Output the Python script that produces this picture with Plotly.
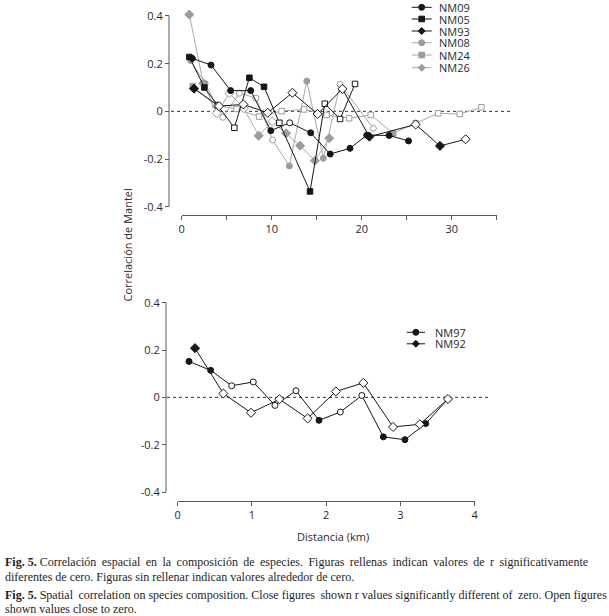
import plotly.graph_objects as go

W, H = 609, 616

# ---------------- data: top panel (distance in km, Mantel r) ----------------
nm09_x = [1.19, 3.26, 5.44, 7.67, 9.9, 12.0, 14.33, 16.5, 18.7, 20.56, 23.04, 25.2]
nm09_y = [0.222, 0.194, 0.087, 0.087, -0.081, -0.048, -0.09, -0.179, -0.155, -0.100, -0.101, -0.124]
nm09_sig = [1, 1, 1, 1, 1, 0, 1, 1, 1, 1, 1, 1]

nm05_x = [0.85, 2.52, 4.0, 5.85, 7.52, 9.15, 10.85, 14.26, 15.9, 17.6, 19.26]
nm05_y = [0.228, 0.100, 0.025, -0.069, 0.141, 0.103, -0.048, -0.336, 0.032, -0.032, 0.115]
nm05_sig = [1, 1, 0, 0, 1, 1, 0, 1, 0, 0, 0]

nm93_x = [1.37, 4.15, 6.85, 9.56, 12.3, 15.1, 17.85, 20.85, 26.0, 28.7, 31.55]
nm93_y = [0.095, 0.022, 0.029, -0.006, 0.078, -0.011, 0.094, -0.106, -0.055, -0.145, -0.117]
nm93_sig = [1, 0, 0, 0, 0, 0, 0, 1, 0, 1, 0]

nm08_x = [1.0, 2.6, 4.56, 6.4, 8.26, 10.1, 11.96, 13.9, 15.74, 17.6, 21.3]
nm08_y = [0.213, 0.117, -0.025, 0.076, 0.056, -0.120, -0.229, 0.127, -0.197, 0.113, -0.071]
nm08_sig = [1, 1, 0, 0, 0, 0, 1, 1, 1, 0, 0]

nm24_x = [1.22, 3.7, 6.1, 8.6, 11.1, 13.6, 16.1, 18.6, 21.0, 23.5, 26.0, 28.5, 30.9, 33.3]
nm24_y = [0.106, 0.027, 0.010, -0.022, 0.001, 0.008, -0.015, -0.029, -0.015, -0.092, -0.050, -0.008, -0.011, 0.017]
nm24_sig = [1, 0, 0, 0, 0, 0, 0, 0, 0, 1, 0, 0, 0, 0]

nm26_x = [0.85, 2.4, 3.9, 5.3, 6.9, 8.55, 10.07, 11.6, 13.15, 14.8, 16.4]
nm26_y = [0.406, 0.117, -0.008, 0.076, 0.013, -0.102, -0.043, -0.092, -0.144, -0.207, -0.113]
nm26_sig = [1, 1, 0, 0, 0, 1, 0, 1, 1, 1, 1]

# ---------------- data: bottom panel ----------------
nm97_x = [0.152, 0.444, 0.727, 1.018, 1.31, 1.593, 1.903, 2.19, 2.48, 2.77, 3.06, 3.34, 3.64]
nm97_y = [0.152, 0.114, 0.049, 0.065, -0.034, 0.028, -0.097, -0.062, 0.008, -0.167, -0.179, -0.111, -0.007]
nm97_sig = [1, 1, 0, 0, 0, 0, 1, 0, 0, 1, 1, 1, 0]

nm92_x = [0.233, 0.615, 0.987, 1.37, 1.75, 2.13, 2.50, 2.90, 3.26, 3.64]
nm92_y = [0.208, 0.016, -0.065, -0.008, -0.089, 0.025, 0.061, -0.125, -0.114, -0.007]
nm92_sig = [1, 0, 0, 0, 0, 0, 0, 0, 0, 0]

y_ticks = [-0.4, -0.2, 0, 0.2, 0.4]
y_ticktext = ["-0.4", "-0.2", "0", "0.2", "0.4"]
x_top_ticks = [0, 5, 10, 15, 20, 25, 30, 35]
x_top_text = ["0", "", "10", "", "20", "", "30", ""]
x_bot_ticks = [0, 1, 2, 3, 4]

BLACK = "#161616"
GRAY = "#9c9c9c"
GRAY_LINE = "#a8a8a8"
AXC = "#5a5a5a"
FONT = "Open Sans"


def px(xp):
    return xp / W


def py(yp):
    return 1 - yp / H


fig = go.Figure()

sym_size = {"circle": 6, "square": 5.5, "diamond": 7}

series_top = [
    ("NM09", nm09_x, nm09_y, nm09_sig, BLACK, BLACK, "circle"),
    ("NM05", nm05_x, nm05_y, nm05_sig, BLACK, BLACK, "square"),
    ("NM93", nm93_x, nm93_y, nm93_sig, BLACK, BLACK, "diamond"),
    ("NM08", nm08_x, nm08_y, nm08_sig, GRAY, GRAY_LINE, "circle"),
    ("NM24", nm24_x, nm24_y, nm24_sig, GRAY, GRAY_LINE, "square"),
    ("NM26", nm26_x, nm26_y, nm26_sig, GRAY, GRAY_LINE, "diamond"),
]
series_bot = [
    ("NM97", nm97_x, nm97_y, nm97_sig, BLACK, BLACK, "circle"),
    ("NM92", nm92_x, nm92_y, nm92_sig, BLACK, BLACK, "diamond"),
]

order_top = [3, 4, 5, 0, 1, 2]
for i in order_top:
    name, xs, ys, sig, mc, lc, sym = series_top[i]
    fig.add_trace(go.Scatter(
        x=xs, y=ys, mode="lines+markers", name=name, xaxis="x", yaxis="y",
        line=dict(color=lc, width=1),
        marker=dict(symbol=sym, size=sym_size[sym],
                    color=[mc if s else "white" for s in sig],
                    line=dict(color=mc, width=1)),
        showlegend=False, cliponaxis=False))

for name, xs, ys, sig, mc, lc, sym in series_bot:
    fig.add_trace(go.Scatter(
        x=xs, y=ys, mode="lines+markers", name=name, xaxis="x2", yaxis="y2",
        line=dict(color=lc, width=1),
        marker=dict(symbol=sym, size=sym_size[sym],
                    color=[mc if s else "white" for s in sig],
                    line=dict(color=mc, width=1)),
        showlegend=False, cliponaxis=False))

axis_common = dict(showgrid=False, zeroline=False, linecolor=AXC,
                   linewidth=1, ticks="outside", ticklen=4, tickcolor=AXC,
                   tickfont=dict(family=FONT, size=11, color="#2a2a2a"),
                   anchor="free")

PAD = 0.03
top_y0, top_y1 = 206.7, 16.0
bot_y0, bot_y1 = 492.0, 302.7
top_s = (top_y0 - top_y1) / 0.8
bot_s = (bot_y0 - bot_y1) / 0.8

fig.update_layout(
    width=W, height=H, margin=dict(l=0, r=0, t=0, b=0, autoexpand=False),
    paper_bgcolor="white", plot_bgcolor="rgba(0,0,0,0)",
    showlegend=False,
    xaxis=dict(domain=[px(181.7), px(496.7)], range=[0, 35], position=py(215), showline=True,
               tickmode="array", tickvals=x_top_ticks, ticktext=x_top_text, **axis_common),
    yaxis=dict(domain=[py(top_y0 + PAD * top_s), py(top_y1 - PAD * top_s)],
               range=[-0.4 - PAD, 0.4 + PAD], position=px(169), showline=False,
               tickmode="array", tickvals=y_ticks, ticktext=y_ticktext, **axis_common),
    xaxis2=dict(domain=[px(177.7), px(474.7)], range=[0, 4], position=py(501), showline=True,
                tickmode="array", tickvals=x_bot_ticks, ticktext=[str(v) for v in x_bot_ticks],
                **axis_common),
    yaxis2=dict(domain=[py(bot_y0 + PAD * bot_s), py(bot_y1 - PAD * bot_s)],
                range=[-0.4 - PAD, 0.4 + PAD], position=px(166), showline=False,
                tickmode="array", tickvals=y_ticks, ticktext=y_ticktext, **axis_common),
)

shapes = []
shapes.append(dict(type="line", xref="paper", yref="y", x0=px(169), x1=px(169),
                   y0=y_ticks[0], y1=y_ticks[-1], line=dict(color=AXC, width=1)))
shapes.append(dict(type="line", xref="paper", yref="y2", x0=px(166), x1=px(166),
                   y0=y_ticks[0], y1=y_ticks[-1], line=dict(color=AXC, width=1)))
shapes.append(dict(type="line", xref="paper", yref="y", x0=px(171), x1=px(511), y0=0, y1=0,
                   line=dict(color="#333", width=1, dash="3px,3px"), layer="below"))
shapes.append(dict(type="line", xref="paper", yref="y2", x0=px(167), x1=px(488), y0=0, y1=0,
                   line=dict(color="#333", width=1, dash="3px,3px"), layer="below"))

annotations = []


def legend_entry(xl0, xl1, ycen, text_x, name, sym, mc, lc):
    shapes.append(dict(type="line", xref="paper", yref="paper", x0=px(xl0), x1=px(xl1),
                       y0=py(ycen), y1=py(ycen), line=dict(color=lc, width=1)))
    xc = (xl0 + xl1) / 2
    if sym == "circle":
        r = 3.0
        shapes.append(dict(type="circle", xref="paper", yref="paper",
                           x0=px(xc - r), x1=px(xc + r), y0=py(ycen + r), y1=py(ycen - r),
                           fillcolor=mc, line=dict(color=mc, width=1)))
    elif sym == "square":
        r = 2.8
        shapes.append(dict(type="rect", xref="paper", yref="paper",
                           x0=px(xc - r), x1=px(xc + r), y0=py(ycen + r), y1=py(ycen - r),
                           fillcolor=mc, line=dict(color=mc, width=1)))
    else:
        r = 3.5
        path = "M {a},{b} L {c},{d} L {a},{e} L {f},{d} Z".format(
            a=px(xc), b=py(ycen - r), c=px(xc + r), d=py(ycen), e=py(ycen + r), f=px(xc - r))
        shapes.append(dict(type="path", xref="paper", yref="paper", path=path,
                           fillcolor=mc, line=dict(color=mc, width=1)))
    annotations.append(dict(x=px(text_x), y=py(ycen), xref="paper", yref="paper",
                            text=name, showarrow=False, xanchor="left", yanchor="middle",
                            font=dict(family=FONT, size=11, color="#2a2a2a")))


leg_rows = [7.3, 19.0, 31.0, 42.7, 55.0, 67.7]
for (name, xs, ys, sig, mc, lc, sym), yr in zip(series_top, leg_rows):
    legend_entry(411.7, 431.7, yr, 437, name, sym, mc, lc)

for (name, xs, ys, sig, mc, lc, sym), yr in zip(series_bot, [332.3, 343.8]):
    legend_entry(406.7, 425.0, yr, 433, name, sym, mc, lc)

annotations.append(dict(x=px(117), y=py(245), xref="paper", yref="paper",
                        text="Correlación de Mantel", textangle=-90, showarrow=False,
                        font=dict(family=FONT, size=11, color="#2a2a2a")))
annotations.append(dict(x=px(333), y=py(536), xref="paper", yref="paper",
                        text="Distancia (km)", showarrow=False, yanchor="middle",
                        font=dict(family=FONT, size=11, color="#2a2a2a")))


def justify(words, extra_every):
    # join words, adding a thin space to some gaps so the line fills the width (justified look)
    out = words[0]
    for i, w in enumerate(words[1:]):
        sep = " \u2009" if (extra_every and i % extra_every == 0) else " "
        out += sep + w
    return out


cap1 = "<b>Fig. 5.</b> " + justify("Correlación espacial en la composición de especies. Figuras rellenas indican valores de r significativamente".split(" "), 1)
cap2 = "diferentes de cero. Figuras sin rellenar indican valores alrededor de cero."
cap3 = "<b>Fig. 5.</b> " + justify("Spatial correlation on species composition. Close figures shown r values significantly different of zero. Open figures".split(" "), 6)
cap4 = "shown values close to zero."

caption = [(562, cap1), (577, cap2), (595, cap3), (609, cap4)]
for yy, t in caption:
    annotations.append(dict(x=px(3), y=py(yy), xref="paper", yref="paper", text=t,
                            showarrow=False, xanchor="left", yanchor="middle",
                            font=dict(family="Liberation Serif", size=12, color="#1e1e1e")))

fig.update_layout(shapes=shapes, annotations=annotations)
fig.write_html("out.html", config={"displayModeBar": False},
               post_script="document.body.style.margin='0px';document.body.style.overflow='hidden';")
